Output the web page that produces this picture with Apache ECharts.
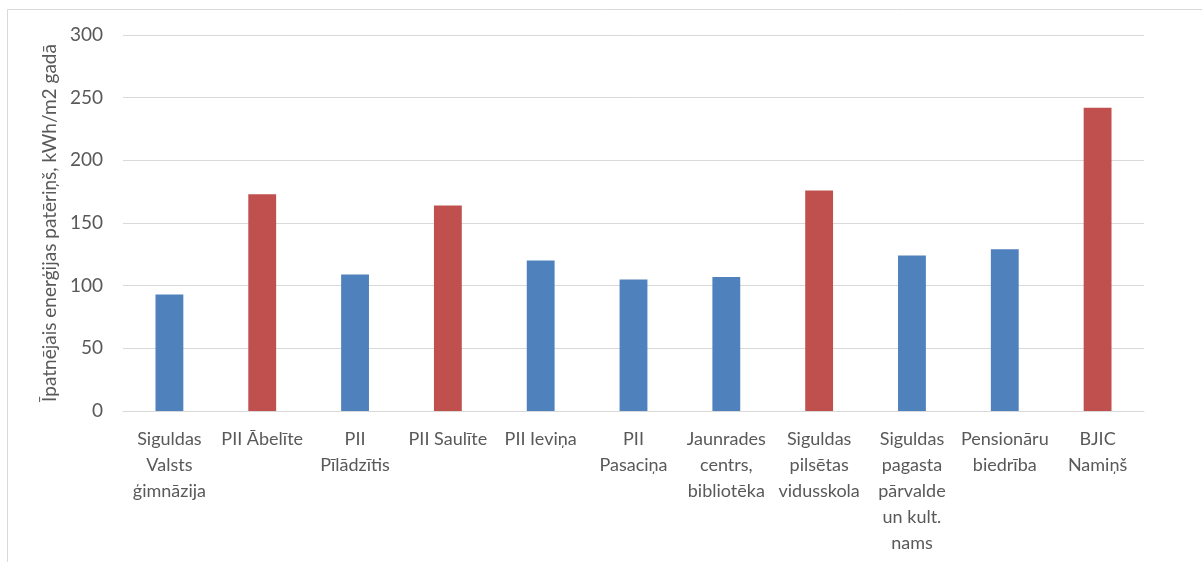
<!DOCTYPE html>
<html>
<head>
<meta charset="utf-8">
<style>
html,body{margin:0;padding:0;background:#fff;}
#chart{width:1202px;height:562px;}
</style>
<script src="https://cdn.jsdelivr.net/npm/echarts@6/dist/echarts.min.js"></script>
</head>
<body>
<div id="chart"></div>
<script>
const categories = [
  'Siguldas\nValsts\nģimnāzija',
  'PII Ābelīte',
  'PII\nPīlādzītis',
  'PII Saulīte',
  'PII Ieviņa',
  'PII\nPasaciņa',
  'Jaunrades\ncentrs,\nbibliotēka',
  'Siguldas\npilsētas\nvidusskola',
  'Siguldas\npagasta\npārvalde\nun kult.\nnams',
  'Pensionāru\nbiedrība',
  'BJIC\nNamiņš'
];
const values = [93, 173, 109, 164, 120, 105, 107, 176, 124, 129, 242];
// true = highlighted (red) building
const highlighted = [false, true, false, true, false, false, false, true, false, false, true];
const yTicks = { min: 0, max: 300, interval: 50 };
const yAxisTitle = 'Īpatnējais enerģijas patēriņš, kWh/m2 gadā';

const BLUE = '#4F81BD', RED = '#C0504D';
const FONT = 'Lato, "Open Sans", sans-serif';

const chart = echarts.init(document.getElementById('chart'), null, {renderer: 'canvas'});
chart.setOption({
  animation: false,
  backgroundColor: '#fff',
  grid: { left: 123, right: 58, top: 35, bottom: 151, containLabel: false },
  xAxis: {
    type: 'category',
    data: categories,
    axisLine: { show: true, lineStyle: { color: '#d9d9d9', width: 1 } },
    axisTick: { show: false },
    axisLabel: {
      interval: 0, color: '#595959', fontFamily: FONT, fontSize: 18,
      lineHeight: 26, margin: 15, align: 'center'
    }
  },
  yAxis: {
    type: 'value',
    min: yTicks.min, max: yTicks.max, interval: yTicks.interval,
    name: yAxisTitle,
    nameLocation: 'middle',
    nameGap: 62,
    nameRotate: 90,
    nameTextStyle: { color: '#595959', fontFamily: FONT, fontSize: 19 },
    axisLine: { show: false },
    axisTick: { show: false },
    axisLabel: { color: '#595959', fontFamily: FONT, fontSize: 19, margin: 20 },
    splitLine: { lineStyle: { color: '#d9d9d9', width: 1 } }
  },
  series: [{
    type: 'bar',
    barWidth: '30%',
    data: values.map((v, i) => ({
      value: v,
      itemStyle: { color: highlighted[i] ? RED : BLUE }
    }))
  }],
  graphic: [
    { type: 'line', shape: { x1: 7.5, y1: 9.5, x2: 1202, y2: 9.5 }, style: { stroke: '#d9d9d9', lineWidth: 1 } },
    { type: 'line', shape: { x1: 7.5, y1: 9.5, x2: 7.5, y2: 562 }, style: { stroke: '#d9d9d9', lineWidth: 1 } }
  ]
});
</script>
</body>
</html>
